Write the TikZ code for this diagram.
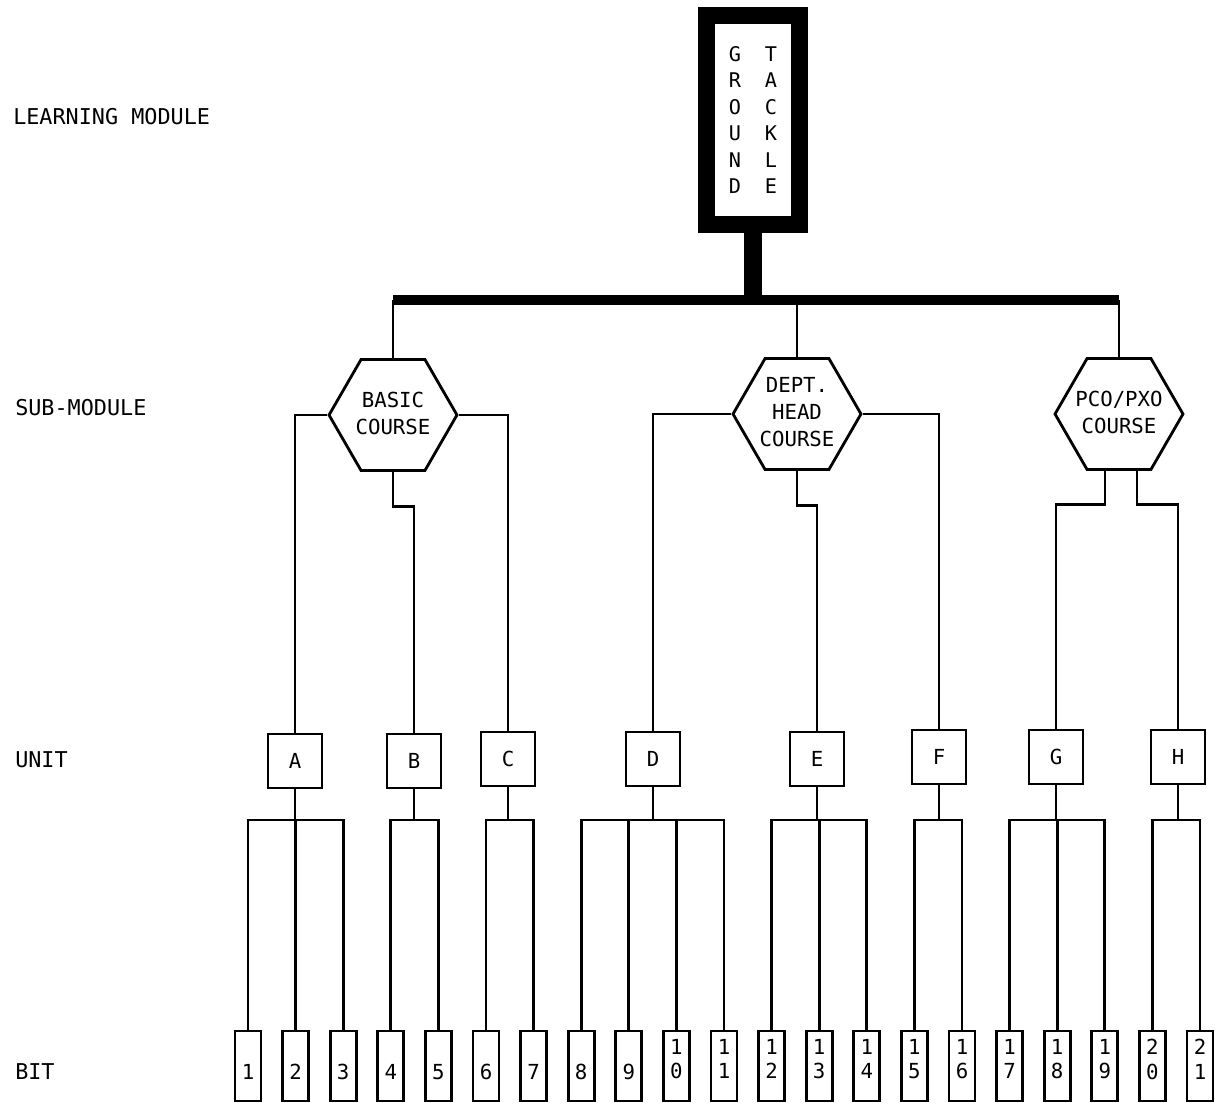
\documentclass[tikz,border=0pt]{standalone}
\usepackage{fontspec}
\setmainfont{DejaVu Sans Mono}
\usetikzlibrary{shapes.geometric,positioning,calc}
\newcommand\hexlines[1]{\smash{\raisebox{-0.11cm}{\makebox[0pt]{\begin{tabular}{@{}c@{}}#1\end{tabular}}}}}

\begin{document}
\begin{tikzpicture}[
    x=0.02cm, y=-0.02cm,
    line width=1.6pt,
    txt/.style={font=\fontsize{11.8}{15.4}\selectfont},
    lbl/.style={anchor=west, font=\fontsize{12.4}{15}\selectfont},
    hexa/.style={regular polygon, regular polygon sides=6, draw, minimum size=2.56cm, inner sep=0pt, txt},
    unitbox/.style={rectangle, draw, minimum size=1.08cm, txt},
    bitbox/.style={rectangle, draw, minimum width=0.52cm, minimum height=1.4cm, inner sep=0pt, align=center, text depth=0.28cm, font=\fontsize{11.8}{14}\selectfont},
    heavy/.style={line width=0.36cm},
    busline/.style={line width=0.2cm}
  ]
  \useasboundingbox (0,0) rectangle (1215,1103);

  % level captions
  \node[lbl] (lm) at (6,117) {LEARNING MODULE};
  \node[lbl] (sm) at (8,408) {SUB-MODULE};
  \node[lbl] (un) at (8,760) {UNIT};
  \node[lbl] (bt) at (8,1072) {BIT};

  \node[draw, line width=0.34cm, minimum width=1.86cm, minimum height=4.18cm, align=center, font=\fontsize{11.5}{15.1}\selectfont] (gt) at (753,120)
    {G\hspace{0.48cm}T\\R\hspace{0.48cm}A\\O\hspace{0.48cm}C\\U\hspace{0.48cm}K\\N\hspace{0.48cm}L\\D\hspace{0.48cm}E};
  \coordinate (bar) at (0,300);

  \node[hexa] (basic) at (393,415) {\hexlines{BASIC\\COURSE}};
  \node[hexa] (dept) at (797,414) {\hexlines{DEPT.\\HEAD\\COURSE}};
  \node[hexa] (pco) at (1119,414) {\hexlines{PCO/PXO\\COURSE}};

  \draw[heavy] (gt.south) -- (gt.south |- bar);
  \draw[busline] (basic |- bar) -- (pco |- bar);
  \foreach \h in {basic,dept,pco}
    \draw (\h.north) -- (\h |- bar);

  \node[unitbox] (A) at (295,761) {A};
  \node[unitbox] (B) at (414,761) {B};
  \node[unitbox] (C) at (508,759) {C};
  \node[unitbox] (D) at (653,759) {D};
  \node[unitbox] (E) at (817,759) {E};
  \node[unitbox] (F) at (939,757) {F};
  \node[unitbox] (G) at (1056,757) {G};
  \node[unitbox] (H) at (1178,757) {H};

  \draw (basic.west) -| (A.north);
  \draw (basic.south) -- ++(0,35) -| (B.north);
  \draw (basic.east) -| (C.north);
  \draw (dept.west) -| (D.north);
  \draw (dept.south) -- ++(0,35) -| (E.north);
  \draw (dept.east) -| (F.north);
  \draw ($(pco.south)+(-14,0)$) -- ++(0,34) -| (G.north);
  \draw ($(pco.south)+(18,0)$) -- ++(0,34) -| (H.north);

  \foreach \i/\t in {1/{\strut\\1},2/{\strut\\2},3/{\strut\\3},4/{\strut\\4},5/{\strut\\5},
      6/{\strut\\6},7/{\strut\\7},8/{\strut\\8},9/{\strut\\9},10/{1\\0},11/{1\\1},
      12/{1\\2},13/{1\\3},14/{1\\4},15/{1\\5},16/{1\\6},17/{1\\7},18/{1\\8},
      19/{1\\9},20/{2\\0},21/{2\\1}}
    \node[bitbox] (b\i) at ({248+(\i-1)*47.6},1066) {\t};

  \coordinate (bus) at (0,820);
  \foreach \u/\f/\l in {A/1/3,B/4/5,C/6/7,D/8/11,E/12/14,F/15/16,G/17/19,H/20/21} {
    \draw (\u.south) -- (\u |- bus);
    \draw (b\f.north) |- (b\l |- bus) -- (b\l.north);
    \foreach \k in {\f,...,\l}
      \draw (b\k.north) -- (b\k |- bus);
  }
\end{tikzpicture}
\end{document}
